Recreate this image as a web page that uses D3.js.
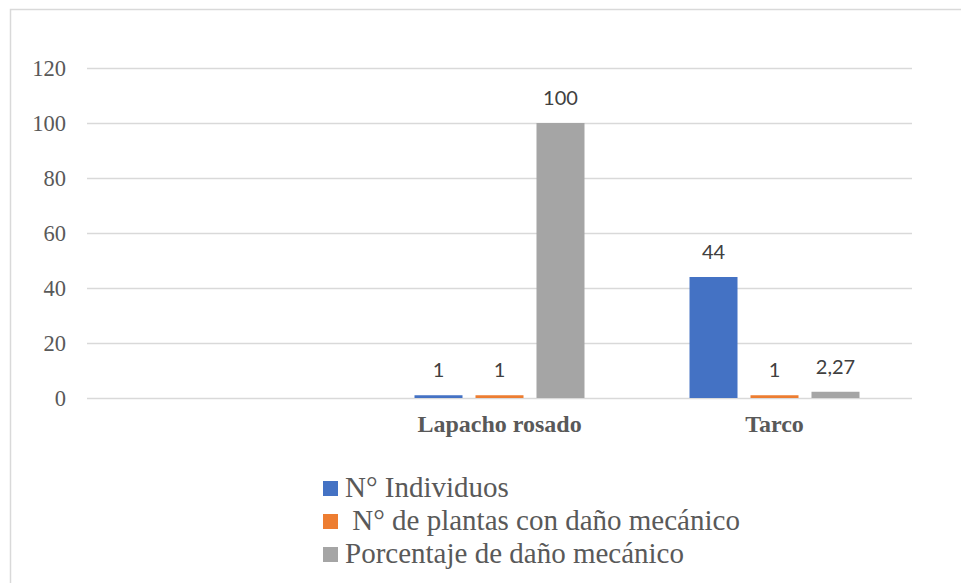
<!DOCTYPE html>
<html>
<head>
<meta charset="utf-8">
<script src="https://cdn.jsdelivr.net/npm/d3@7"></script>
<style>
  html, body { margin: 0; padding: 0; background: #ffffff; }
  svg { display: block; }
  .serif { font-family: "Liberation Serif", "Tinos", "Times New Roman", "Nimbus Roman", "DejaVu Serif", serif; }
</style>
</head>
<body>
<svg id="chart" width="961" height="583"></svg>
<script>
// Categories (the first slot is left blank) and the three series
const categories = ["", "Lapacho rosado", "Tarco"];
const seriesNames = ["N° Individuos", " N° de plantas con daño mecánico", "Porcentaje de daño mecánico"];
const individuos = [null, 1, 44];
const plantasConDanio = [null, 1, 1];
const porcentajeDanio = [null, 100, 2.27];
const yTicks = [0, 20, 40, 60, 80, 100, 120];
const colors = ["#4472C4", "#ED7D31", "#A5A5A5"];

const seriesValues = [individuos, plantasConDanio, porcentajeDanio];

const svg = d3.select("#chart");

// outer frame of the chart area
svg.append("rect")
  .attr("x", 10.5).attr("y", 9.5)
  .attr("width", 1000).attr("height", 1000)
  .attr("fill", "#ffffff")
  .attr("stroke", "#d9d9d9")
  .attr("stroke-width", 1.5);

const plot = { left: 87, right: 912, top: 68, bottom: 398 };

const y = d3.scaleLinear().domain([0, 120]).range([plot.bottom, plot.top]);
const x0 = d3.scaleBand().domain(categories).range([plot.left, plot.right]);
const groupPad = 52.5;
const x1 = d3.scaleBand()
  .domain(d3.range(seriesNames.length))
  .range([groupPad, x0.bandwidth() - groupPad])
  .paddingInner(0.213)
  .paddingOuter(0);

// gridlines
svg.append("g")
  .selectAll("line")
  .data(yTicks)
  .join("line")
  .attr("x1", plot.left).attr("x2", plot.right)
  .attr("y1", d => Math.round(y(d)) + 0.5)
  .attr("y2", d => Math.round(y(d)) + 0.5)
  .attr("stroke", "#d9d9d9")
  .attr("stroke-width", 1.3);

// y axis labels
const yAxis = d3.axisLeft(y).tickValues(yTicks).tickSize(0).tickPadding(21);
const gy = svg.append("g").attr("transform", `translate(${plot.left},0)`).call(yAxis);
gy.attr("font-family", null).attr("font-size", null);
gy.select(".domain").remove();
gy.selectAll("text")
  .attr("class", "serif")
  .style("font-size", "22.5px")
  .attr("fill", "#595959");

// category labels
const xAxis = d3.axisBottom(x0).tickSize(0).tickPadding(0);
const gx = svg.append("g").attr("transform", `translate(0,${plot.bottom})`).call(xAxis);
gx.attr("font-family", null).attr("font-size", null);
gx.select(".domain").remove();
gx.selectAll("text")
  .attr("dy", null)
  .attr("y", 34)
  .attr("class", "serif")
  .style("font-weight", "bold")
  .style("font-size", "24px")
  .attr("fill", "#595959");

// bars
const rows = [];
categories.forEach((c, ci) => {
  seriesValues.forEach((vals, si) => {
    if (vals[ci] != null) rows.push({ cat: c, s: si, v: vals[ci] });
  });
});

const fmt = v => (Number.isInteger(v) ? String(v) : d3.format(".2f")(v).replace(".", ","));

svg.append("g")
  .selectAll("rect")
  .data(rows)
  .join("rect")
  .attr("x", d => x0(d.cat) + x1(d.s))
  .attr("width", x1.bandwidth())
  .attr("y", d => y(d.v))
  .attr("height", d => y(0) - y(d.v))
  .attr("fill", d => colors[d.s]);

// value labels
svg.append("g")
  .selectAll("text")
  .data(rows)
  .join("text")
  .attr("x", d => x0(d.cat) + x1(d.s) + x1.bandwidth() / 2)
  .attr("y", d => y(d.v) - 18)
  .attr("text-anchor", "middle")
  .style("font-family", "Lato, 'Open Sans', sans-serif")
  .style("font-size", "20px")
  .attr("fill", "#404040")
  .text(d => fmt(d.v));

// legend
const legend = svg.append("g").attr("transform", "translate(323,0)");
const legendBaselines = [497, 530, 563];
seriesNames.forEach((name, i) => {
  const row = legend.append("g");
  row.append("rect")
    .attr("x", 0).attr("y", legendBaselines[i] - 16)
    .attr("width", 15).attr("height", 15)
    .attr("fill", colors[i]);
  row.append("text")
    .attr("x", 22).attr("y", legendBaselines[i])
    .attr("class", "serif")
    .style("white-space", "pre")
    .style("font-size", "29px")
    .attr("fill", "#595959")
    .text(name);
});
</script>
</body>
</html>
